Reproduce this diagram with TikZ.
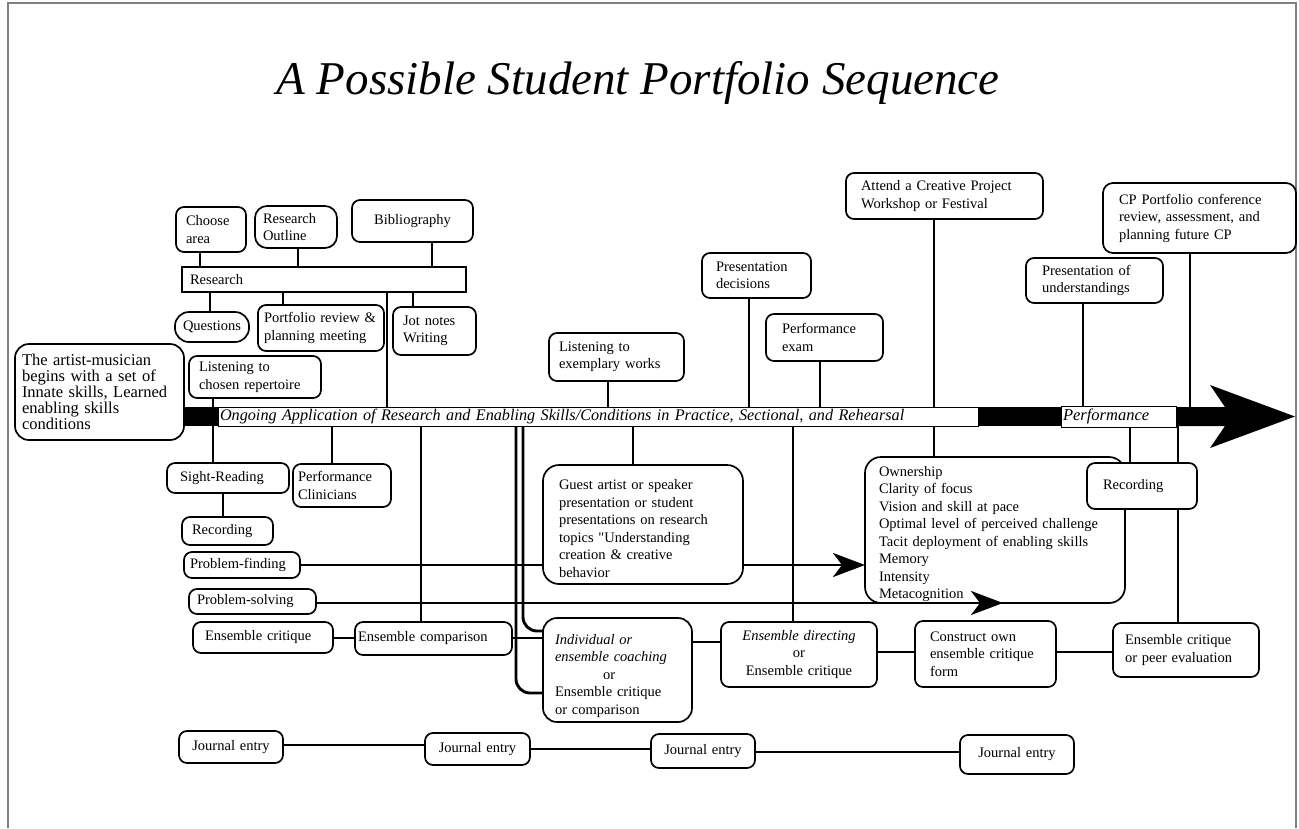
\documentclass[tikz,border=0pt]{standalone}
\usepackage{fontspec}
\setmainfont{Liberation Serif}
\newfontfamily\rawserif{Liberation Serif}[Ligatures=TeXOff]
\usetikzlibrary{arrows.meta}
\pgfdeclarelayer{back}
\pgfdeclarelayer{bg}
\pgfsetlayers{back,bg,main}
\tikzset{
  bx/.style={draw=black, line width=1.7pt, fill=white, rounded corners=8pt,
    inner ysep=2pt, outer sep=0pt, align=left,
    font=\fontsize{14.5}{17.5}\selectfont},
  con/.style={line width=2.9pt, draw=black},
  bigarrow/.style={-{Stealth[length=32pt,width=24pt,inset=9pt]}},
}
\newcommand\bx[8][]{%
  \pgfmathsetmacro\bxw{#5-#3}%
  \pgfmathsetmacro\bxh{#6-#4}%
  \pgfmathsetmacro\bxt{#5-#3-2*#7}%
  \node[bx,anchor=north west,minimum width=\bxw pt,minimum height=\bxh pt,
    inner xsep=#7pt,text width=\bxt pt,#1] (#2) at (#3,#4) {#8};}
\begin{document}
\begin{tikzpicture}[x=1pt,y=-1pt]
\useasboundingbox (0,0) rectangle (1299,828);
\begin{pgfonlayer}{back}
\fill[white] (0,0) rectangle (1299,828);
\end{pgfonlayer}
% frame
\draw[line width=1.4pt, gray] (8,828) -- (8,3) -- (1296,3) -- (1296,828);
% title
\node[font=\fontsize{47}{50}\selectfont\itshape, anchor=base, inner sep=0pt] (title) at (638,94) {A Possible Student Portfolio Sequence};

% upper boxes
\bx{choose}{176}{207}{246}{252}{10}{Choose\\area}
\bx[rounded corners=12pt]{outline}{255}{206}{337}{248}{8}{Research\\Outline}
\bx[align=center]{biblio}{352}{200}{473}{242}{8}{Bibliography}
\bx[sharp corners]{research}{182}{267}{466}{292}{8}{Research}
\bx[rounded corners=14pt,align=center]{questions}{175}{312}{249}{342}{4}{Questions}
\bx{portrev}{258}{305}{384}{351}{6}{Portfolio review \&\\planning meeting}
\bx{jot}{393}{307}{476}{355}{10}{Jot notes\\Writing}
\bx[rounded corners=14pt,font=\fontsize{16.5}{16}\selectfont]{artist}{15}{344}{184}{440}{7}{The artist-musician\\begins with a set of\\Innate skills, Learned\\enabling skills\\conditions}
\bx{listen1}{189}{356}{321}{398}{10}{Listening to\\chosen repertoire}
\bx{exemp}{549}{333}{684}{381}{10}{Listening to\\exemplary works}
\bx{presdec}{702}{253}{811}{298}{14}{Presentation\\decisions}
\bx{perfexam}{766}{314}{883}{361}{16}{Performance\\exam}
\bx{attend}{846}{173}{1043}{219}{15}{Attend a Creative Project\\Workshop or Festival}
\bx{presund}{1026}{258}{1163}{303}{16}{Presentation of\\understandings}
\bx[rounded corners=10pt]{cpport}{1103}{183}{1296}{253}{16}{CP Portfolio conference\\review, assessment, and\\planning future CP}

% main bar
\node[fill=black, draw=none, anchor=north west, minimum width=1042pt, minimum height=19pt, inner sep=0pt, outer sep=0pt] (bar) at (184,407) {};
\fill (1176,407) -- (1225,407) -- (1210,385) -- (1295,416.5) -- (1210,448) -- (1225,426) -- (1176,426) -- cycle;
\bx[sharp corners, line width=1pt, inner ysep=0pt, font=\fontsize{16.2}{18}\selectfont\itshape]{ongoing}{218}{407}{978}{426}{2}{Ongoing Application of Research and Enabling Skills/Conditions in Practice, Sectional, and Rehearsal}
\bx[sharp corners, line width=1pt, inner ysep=0pt, font=\fontsize{16.5}{18}\selectfont\itshape]{perf}{1061}{406}{1176}{427}{2}{Performance}

% lower boxes
\bx{sight}{167}{463}{289}{493}{13}{Sight-Reading}
\bx{rec1}{182}{517}{273}{545}{10}{Recording}
\bx{perfclin}{293}{464}{391}{507}{5}{Performance\\Clinicians}
\bx{pfind}{184}{552}{300}{578}{6}{Problem-finding}
\bx{psolve}{189}{589}{316}{614}{8}{Problem-solving}
\bx{ecrit1}{193}{622}{333}{653}{12}{Ensemble critique}
\bx{ecomp}{355}{622}{512}{655}{3}{Ensemble comparison}
\bx[rounded corners=16pt]{guest}{543}{465}{743}{584}{16}{\rule{0pt}{18.5pt}Guest artist or speaker\\presentation or student\\presentations on research\\topics {\rawserif"}Understanding\\creation \& creative\\behavior}
\bx[rounded corners=14pt]{indiv}{543}{618}{692}{722}{12}{\rule{0pt}{22pt}\textit{Individual or}\\\textit{ensemble coaching}\\\hspace*{48pt}or\\Ensemble critique\\or comparison}
\bx[align=center]{edir}{721}{622}{877}{687}{8}{\textit{Ensemble directing}\\or\\Ensemble critique}
\bx{construct}{915}{621}{1056}{687}{15}{Construct own\\ensemble critique\\form}
\bx{peer}{1113}{623}{1259}{677}{12}{Ensemble critique\\or peer evaluation}
\bx[rounded corners=16pt, inner ysep=0pt]{owner}{865}{457}{1125}{603}{14}{\rule{0pt}{18pt}Ownership\\Clarity of focus\\Vision and skill at pace\\Optimal level of perceived challenge\\Tacit deployment of enabling skills\\Memory\\Intensity\\Metacognition}
\bx{rec2}{1087}{463}{1197}{509}{16}{Recording}
\bx[align=center]{j1}{179}{731}{283}{763}{4}{Journal entry}
\bx[align=center]{j2}{425}{733}{530}{765}{4}{Journal entry}
\bx[align=center]{j3}{651}{734}{755}{768}{4}{Journal entry}
\bx[align=center]{j4}{960}{735}{1074}{774}{4}{Journal entry}

\coordinate (psend) at (1003,603);

\begin{pgfonlayer}{bg}
\draw[con] (200,0 |- choose.south) -- (200,0 |- research.north);
\draw[con] (298,0 |- outline.south) -- (298,0 |- research.north);
\draw[con] (432,0 |- biblio.south) -- (432,0 |- research.north);
\draw[con] (210,0 |- research.south) -- (210,0 |- questions.north);
\draw[con] (283,0 |- research.south) -- (283,0 |- portrev.north);
\draw[con] (413,0 |- research.south) -- (413,0 |- jot.north);
\draw[con] (387,0 |- research.south) -- (387,0 |- ongoing.north);
\draw[con] (213,0 |- listen1.south) -- (213,0 |- sight.north);
\draw[con] (608,0 |- exemp.south) -- (608,0 |- ongoing.north);
\draw[con] (749,0 |- presdec.south) -- (749,0 |- ongoing.north);
\draw[con] (820,0 |- perfexam.south) -- (820,0 |- ongoing.north);
\draw[con] (934,0 |- attend.south) -- (934,0 |- owner.north);
\draw[con] (1083,0 |- presund.south) -- (1083,0 |- perf.north);
\draw[con] (1190,0 |- cpport.south) -- (1190,0 |- bar.north);
\draw[con] (1178,0 |- bar.south) -- (1178,0 |- peer.north);
\draw[con, line width=2pt] (1130,0 |- perf.south) -- (1130,0 |- rec2.north);
\draw[con] (332,0 |- ongoing.south) -- (332,0 |- perfclin.north);
\draw[con] (421,0 |- ongoing.south) -- (421,0 |- ecomp.north);
\draw[con] (633,0 |- ongoing.south) -- (633,0 |- guest.north);
\draw[con] (793,0 |- ongoing.south) -- (793,0 |- edir.north);
\draw[con] (223,0 |- sight.south) -- (223,0 |- rec1.north);
\draw[con, rounded corners=14pt] (523,0 |- ongoing.south) |- (indiv.west |- 0,631);
\draw[con, rounded corners=14pt] (516,0 |- ongoing.south) |- (indiv.west |- 0,693);
\draw[con, bigarrow] (pfind.east) -- (owner.west |- pfind.east);
\draw[con] (ecrit1.east |- 0,638) -- (ecomp.west |- 0,638);
\draw[con] (ecomp.east |- 0,638) -- (indiv.west |- 0,638);
\draw[con] (indiv.east |- 0,642) -- (edir.west |- 0,642);
\draw[con] (edir.east |- 0,652) -- (construct.west |- 0,652);
\draw[con] (construct.east |- 0,652) -- (peer.west |- 0,652);
\draw[con] (j1.east |- 0,745) -- (j2.west |- 0,745);
\draw[con] (j2.east |- 0,749) -- (j3.west |- 0,749);
\draw[con] (j3.east |- 0,752) -- (j4.west |- 0,752);
\end{pgfonlayer}
\draw[con, bigarrow] (psolve.east |- 0,603) -- (psend);
\end{tikzpicture}
\end{document}
